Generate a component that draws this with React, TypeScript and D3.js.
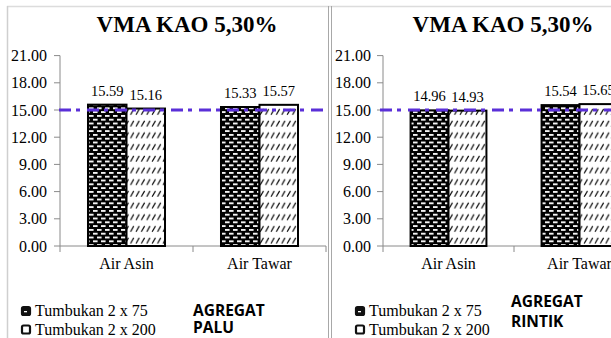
import React from "react";
import * as d3 from "d3";

const categories = ["Air Asin", "Air Tawar"];
const seriesNames = ["Tumbukan 2 x 75", "Tumbukan 2 x 200"];
const paluT75 = [15.59, 15.33];
const paluT200 = [15.16, 15.57];
const rintikT75 = [14.96, 15.54];
const rintikT200 = [14.93, 15.65];
const yTicks = [0, 3, 6, 9, 12, 15, 18, 21];
const refValue = 15;
const chartTitle = "VMA KAO 5,30%";

const serif = "'Liberation Serif', 'Times New Roman', serif";
const sans = "'Open Sans', 'Noto Sans', sans-serif";
const fmt = d3.format(".2f");

type PanelProps = {
  axisX: number;
  rightX: number;
  lineFrom: number;
  lineTo: number;
  titleX: number;
  labelGap: number;
  s1: number[];
  s2: number[];
  legendX: number;
  agText: string[];
  agX: number;
  agY: number[];
};

function Panel(p: PanelProps) {
  const y = d3.scaleLinear().domain([0, 21]).range([246, 55.6]);
  const x = d3.scaleBand<string>().domain(categories).range([p.axisX, p.rightX]).padding(0);
  const inner = d3
    .scaleBand<string>()
    .domain(seriesNames)
    .range([0, x.bandwidth()])
    .paddingInner(0)
    .paddingOuter(0.727);
  const values = [p.s1, p.s2];
  const fills = ["url(#patDots)", "url(#patHatch)"];
  const axisColor = "#8a8a8a";
  const bounds = [p.axisX, ...categories.map((c) => (x(c) as number) + x.bandwidth())];
  return (
    <g>
      <text
        x={p.titleX}
        y={32}
        textAnchor="middle"
        fontFamily={serif}
        fontWeight="bold"
        fontSize={23}
        fill="#000"
      >
        {chartTitle}
      </text>
      {/* y axis */}
      <line x1={p.axisX} x2={p.axisX} y1={y(21)} y2={y(0)} stroke={axisColor} strokeWidth={1} />
      {yTicks.map((t) => (
        <g key={t}>
          <line x1={p.axisX - 6} x2={p.axisX} y1={y(t)} y2={y(t)} stroke={axisColor} />
          <text
            x={p.axisX - p.labelGap}
            y={y(t)}
            dy="0.35em"
            textAnchor="end"
            fontFamily={serif}
            fontSize={16}
            fill="#000"
          >
            {fmt(t)}
          </text>
        </g>
      ))}
      {/* x axis */}
      <line x1={p.axisX} x2={p.rightX} y1={y(0)} y2={y(0)} stroke={axisColor} />
      {bounds.map((b, i) => (
        <line key={i} x1={b} x2={b} y1={y(0)} y2={y(0) + 6} stroke={axisColor} />
      ))}
      {categories.map((c) => (
        <text
          key={c}
          x={(x(c) as number) + x.bandwidth() / 2}
          y={269}
          textAnchor="middle"
          fontFamily={serif}
          fontSize={16}
          fill="#000"
        >
          {c}
        </text>
      ))}
      {/* bars */}
      {seriesNames.map((s, si) =>
        categories.map((c, ci) => {
          const v = values[si][ci];
          const bx = (x(c) as number) + (inner(s) as number);
          return (
            <rect
              key={s + c}
              x={bx}
              y={y(v)}
              width={inner.bandwidth()}
              height={y(0) - y(v)}
              fill={fills[si]}
              stroke="#000"
              strokeWidth={2}
            />
          );
        })
      )}
      {seriesNames.map((s, si) =>
        categories.map((c, ci) => {
          const v = values[si][ci];
          const bx = (x(c) as number) + (inner(s) as number) + inner.bandwidth() / 2;
          return (
            <text
              key={"l" + s + c}
              x={bx}
              y={y(v) - 9}
              textAnchor="middle"
              fontFamily={serif}
              fontSize={14.5}
              fill="#000"
            >
              {fmt(v)}
            </text>
          );
        })
      )}
      {/* reference line */}
      <line
        x1={p.lineFrom}
        x2={p.lineTo}
        y1={y(refValue)}
        y2={y(refValue)}
        stroke="#5a2fd8"
        strokeWidth={3}
        strokeDasharray="12,5,4,7"
      />
      {/* legend */}
      {seriesNames.map((s, si) => (
        <g key={"lg" + s}>
          <rect
            x={p.legendX}
            y={307 + si * 18.5}
            width={8}
            height={8}
            rx={1.5}
            fill={si === 0 ? "#111" : "#fff"}
            stroke="#111"
            strokeWidth={2.2}
          />
          {si === 0 && (
            <rect x={p.legendX + 2} y={311 + si * 18.5} width={3} height={1.3} fill="#fff" />
          )}
          <text
            x={p.legendX + 13}
            y={316 + si * 18.5}
            fontFamily={serif}
            fontSize={16}
            fill="#000"
          >
            {s}
          </text>
        </g>
      ))}
      {p.agText.map((t, i) => (
        <text
          key={t}
          x={p.agX}
          y={p.agY[i]}
          fontFamily={sans}
          fontWeight="bold"
          fontSize={15.5}
          fill="#000"
        >
          {t}
        </text>
      ))}
    </g>
  );
}

export default function App() {
  return (
    <svg
      width={611}
      height={338}
      viewBox="0 0 611 338"
      style={{ position: "absolute", left: 0, top: 0, background: "#fff" }}
    >
      <defs>
        <pattern id="patDots" patternUnits="userSpaceOnUse" width={8} height={7.6}>
          <rect x={0} y={0} width={8} height={7.6} fill="#000" />
          <rect x={1} y={1} width={4.6} height={1.8} fill="#fff" />
          <rect x={5} y={4.8} width={4.6} height={1.8} fill="#fff" />
          <rect x={-3} y={4.8} width={4.6} height={1.8} fill="#fff" />
        </pattern>
        <pattern id="patHatch" patternUnits="userSpaceOnUse" width={5.4} height={11.7}>
          <rect x={0} y={0} width={5.4} height={11.7} fill="#fff" />
          <line x1={1} y1={9.5} x2={4.2} y2={3.8} stroke="#000" strokeWidth={1.1} />
        </pattern>
      </defs>
      <rect x={0} y={0} width={611} height={338} fill="#fff" />
      {/* borders */}
      <line x1={7} x2={611} y1={6.5} y2={6.5} stroke="#dcdcdc" strokeWidth={1.5} />
      <line x1={7.5} x2={7.5} y1={6} y2={338} stroke="#cfcfcf" strokeWidth={1.5} />
      <line x1={328.5} x2={328.5} y1={6} y2={338} stroke="#a8a8a8" strokeWidth={1} />
      <line x1={331.5} x2={331.5} y1={6} y2={338} stroke="#a8a8a8" strokeWidth={1} />
      <Panel
        axisX={60}
        rightX={326}
        lineFrom={59}
        lineTo={326}
        titleX={187}
        labelGap={13}
        s1={paluT75}
        s2={paluT200}
        legendX={22}
        agText={["AGREGAT", "PALU"]}
        agX={193}
        agY={[316, 333]}
      />
      <Panel
        axisX={383}
        rightX={645}
        lineFrom={380}
        lineTo={640}
        titleX={503}
        labelGap={12}
        s1={rintikT75}
        s2={rintikT200}
        legendX={356}
        agText={["AGREGAT", "RINTIK"]}
        agX={511}
        agY={[307, 327]}
      />
    </svg>
  );
}
